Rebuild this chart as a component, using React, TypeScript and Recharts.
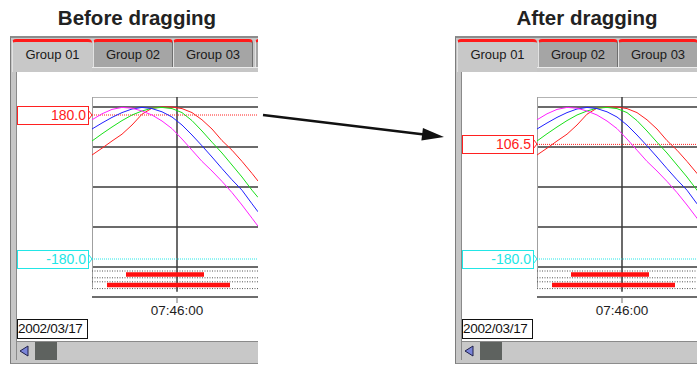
import React from "react";
import { LineChart, Line, XAxis, YAxis, ReferenceLine, CartesianGrid } from "recharts";

// sample times, seconds relative to the cursor (07:46:00)
const times = [-85, -75, -65, -55, -45, -35, -25, -15, -5, 5, 15, 25, 35, 45, 55, 65, 75, 81];
const ch1 = [80, 97, 115, 132, 155, 182, 197, 200, 200, 196, 186, 168, 145, 116, 92, 64, 34, 15];
const ch2 = [115, 133, 150, 166, 180, 190, 197, 199, 196, 186, 166, 140, 112, 85, 55, 25, -8, -26];
const ch3 = [145, 160, 174, 186, 195, 199, 196, 188, 175, 155, 130, 103, 75, 46, 18, -8, -42, -62];
const ch4 = [168, 183, 194, 199, 197, 190, 180, 165, 146, 120, 92, 64, 40, 14, -14, -45, -78, -98];
const seriesColors = ["#ff2020", "#18e018", "#2020ff", "#ff20ff"];

const gridValues = [200, 100, 0, -100, -200];
const tabNames = ["Group 01", "Group 02", "Group 03"];

// alarm/event bars shown under the trend
const eventStarts = [-51, -70];
const eventEnds = [27, 53];
const eventLanes = [-219, -245];
const laneGuides = [-210, -227, -237, -254];

const upperBefore = 180.0;
const upperAfter = 106.5;
const lowerLimit = -180.0;
const dateLabel = "2002/03/17";
const cursorBase = 7 * 3600 + 46 * 60;

const rows = times.map((t, i) => ({ t, a: ch1[i], b: ch2[i], c: ch3[i], d: ch4[i] }));

const pad = (n: number) => String(n).padStart(2, "0");
const fmtTime = (t: number) => {
  const s = cursorBase + t;
  return `${pad(Math.floor(s / 3600))}:${pad(Math.floor((s % 3600) / 60))}:${pad(s % 60)}`;
};

const Y_TOP = 225;
const Y_BOT = -275;
const PLOT_TOP = 97;
const PX = 0.4; // px per unit
const yPix = (v: number) => PLOT_TOP + (Y_TOP - v) * PX;

function MarkerBox({ value, color }: { value: number; color: string }) {
  const cy = yPix(value);
  return (
    <>
      <div
        style={{
          position: "absolute",
          left: 17,
          top: Math.round(cy - 9.5),
          width: 72,
          height: 19,
          boxSizing: "border-box",
          border: `1.5px solid ${color}`,
          color,
          fontSize: 14,
          lineHeight: "16px",
          textAlign: "right",
          paddingRight: 2,
          background: "#fff",
        }}
      >
        {value.toFixed(1)}
      </div>
      <svg style={{ position: "absolute", left: 88, top: Math.round(cy - 5) }} width={6} height={10}>
        <polyline points="0.5,0.5 4,5 0.5,9.5" fill="none" stroke={color} strokeWidth={1} />
      </svg>
    </>
  );
}

function Tab({ left, name, active }: { left: number; name?: string; active?: boolean }) {
  return (
    <div
      style={{
        position: "absolute",
        left,
        top: 39,
        width: 80,
        height: active ? 33 : 29,
        boxSizing: "border-box",
        background: active ? "#c8c8c8" : "#a5a5a5",
        borderTop: "3px solid #ff1a1a",
        borderTopLeftRadius: 4,
        borderTopRightRadius: 4,
        borderLeft: "1px solid #e2e2e2",
        borderRight: active ? "none" : "1px solid #6e6e6e",
        fontSize: 13,
        lineHeight: "15px",
        paddingTop: 5,
        textAlign: "center",
        color: "#1a1a1a",
      }}
    >
      {name}
    </div>
  );
}

function Panel({ dx, clipW, upper }: { dx: number; clipW: number; upper: number }) {
  const tabLefts = [12, 93, 173];
  return (
    <div style={{ position: "absolute", left: dx, top: 0, width: clipW, height: 365, overflow: "hidden" }}>
      {/* outer frame */}
      <div
        style={{
          position: "absolute",
          left: 10,
          top: 36,
          width: 400,
          height: 325,
          background: "#c6c6c6",
          borderLeft: "1px solid #7c7c7c",
          borderTop: "2px solid #8c8c8c",
          borderBottom: "1px solid #8c8c8c",
        }}
      />
      {tabNames.map((name, i) => (
        <Tab key={name} left={tabLefts[i]} name={name} active={i === 0} />
      ))}
      <Tab left={255} />
      <div style={{ position: "absolute", left: 92, top: 67, width: 400, height: 1, background: "#ececec" }} />
      {/* white content area */}
      <div
        style={{
          position: "absolute",
          left: 16,
          top: 72,
          width: 400,
          height: 270,
          background: "#fff",
          borderLeft: "1px solid #8a8a8a",
        }}
      />
      <MarkerBox value={upper} color="#ff2020" />
      <MarkerBox value={lowerLimit} color="#22e6e6" />
      <div style={{ position: "absolute", left: 92, top: PLOT_TOP }}>
        <LineChart width={166} height={230} data={rows} margin={{ top: 0, right: 0, bottom: 0, left: 0 }}>
          <CartesianGrid
            vertical={false}
            horizontalValues={gridValues}
            stroke="#3a3a3a"
            strokeWidth={1.5}
            strokeDasharray=""
          />
          <XAxis
            dataKey="t"
            type="number"
            domain={[-85, 81]}
            ticks={[0]}
            tickFormatter={fmtTime}
            height={30}
            allowDataOverflow
            axisLine={{ stroke: "#3c3c3c", strokeWidth: 1.5 }}
            tickLine={{ stroke: "#707070" }}
            tickSize={6}
            tick={{ fontSize: 13.5, fill: "#1e1e1e" }}
          />
          <YAxis hide type="number" domain={[Y_BOT, Y_TOP]} allowDataOverflow />
          <ReferenceLine zIndex={-10} y={Y_TOP} stroke="#9a9a9a" strokeWidth={1.5} />
          <ReferenceLine zIndex={-10} segment={[{ x: -85, y: Y_TOP }, { x: -85, y: -252 }]} stroke="#a0a0a0" strokeWidth={2} />
          {laneGuides.map((v) => (
            <ReferenceLine zIndex={-10} key={`g${v}`} y={v} stroke="#555" strokeWidth={1} strokeDasharray="1 1.5" />
          ))}
          <ReferenceLine zIndex={-10} segment={[{ x: 0, y: Y_TOP }, { x: 0, y: -262 }]} stroke="#3a3a3a" strokeWidth={1.5} />
          <ReferenceLine zIndex={-10} y={upper} stroke="#ff2020" strokeWidth={1} strokeDasharray="1 1" />
          <ReferenceLine zIndex={-10} y={lowerLimit} stroke="#22e6e6" strokeWidth={1} strokeDasharray="1 1" />
          {eventLanes.map((lane, i) => (
            <ReferenceLine
              key={`e${i}`}
              segment={[{ x: eventStarts[i], y: lane }, { x: eventEnds[i], y: lane }]}
              stroke="#ff1010"
              strokeWidth={4.5}
            />
          ))}
          <Line type="linear" dataKey="a" stroke={seriesColors[0]} strokeWidth={1} dot={false} isAnimationActive={false} />
          <Line type="linear" dataKey="b" stroke={seriesColors[1]} strokeWidth={1} dot={false} isAnimationActive={false} />
          <Line type="linear" dataKey="c" stroke={seriesColors[2]} strokeWidth={1} dot={false} isAnimationActive={false} />
          <Line type="linear" dataKey="d" stroke={seriesColors[3]} strokeWidth={1} dot={false} isAnimationActive={false} />
        </LineChart>
      </div>
      {/* date box */}
      <div
        style={{
          position: "absolute",
          left: 17,
          top: 319,
          width: 71,
          height: 20,
          boxSizing: "border-box",
          border: "1px solid #111",
          fontSize: 13.5,
          lineHeight: "18px",
          letterSpacing: -0.3,
          color: "#111",
          background: "#fff",
        }}
      >
        {dateLabel}
      </div>
      {/* scrollbar */}
      <div
        style={{
          position: "absolute",
          left: 16,
          top: 341,
          width: 400,
          height: 18,
          background: "#c8c8c8",
          borderTop: "1px solid #8a8a8a",
          borderLeft: "1px solid #8a8a8a",
        }}
      />
      <svg style={{ position: "absolute", left: 17, top: 342 }} width={18} height={18}>
        <polygon points="3,9 11,4 11,14" fill="#7a84d8" stroke="#20204a" strokeWidth={1} />
      </svg>
      <div style={{ position: "absolute", left: 35, top: 342, width: 22, height: 18, background: "#5e625f" }} />
    </div>
  );
}

export default function App() {
  const dir = { x: 0.9927, y: 0.1206 };
  const tip = { x: 444, y: 137 };
  const base = { x: tip.x - 22 * dir.x, y: tip.y - 22 * dir.y };
  const w = 6.3;
  return (
    <div
      style={{
        position: "absolute",
        left: 0,
        top: 0,
        width: 697,
        height: 365,
        overflow: "hidden",
        background: "#fff",
        fontFamily: '"Liberation Sans", Arial, Helvetica, sans-serif',
      }}
    >
      <div style={{ position: "absolute", left: 37, top: 7, width: 200, textAlign: "center", fontSize: 20.5, fontWeight: "bold", lineHeight: "21px", color: "#222" }}>
        Before dragging
      </div>
      <div style={{ position: "absolute", left: 487, top: 7, width: 200, textAlign: "center", fontSize: 20.5, fontWeight: "bold", lineHeight: "21px", color: "#222" }}>
        After dragging
      </div>
      <Panel dx={0} clipW={258} upper={upperBefore} />
      <Panel dx={445} clipW={252} upper={upperAfter} />
      <svg style={{ position: "absolute", left: 0, top: 0 }} width={697} height={365}>
        <line x1={263} y1={115} x2={base.x + 2} y2={base.y + 0.25} stroke="#111" strokeWidth={2.5} />
        <polygon
          points={`${tip.x},${tip.y} ${base.x - dir.y * w},${base.y + dir.x * w} ${base.x + dir.y * w},${base.y - dir.x * w}`}
          fill="#111"
        />
      </svg>
    </div>
  );
}
